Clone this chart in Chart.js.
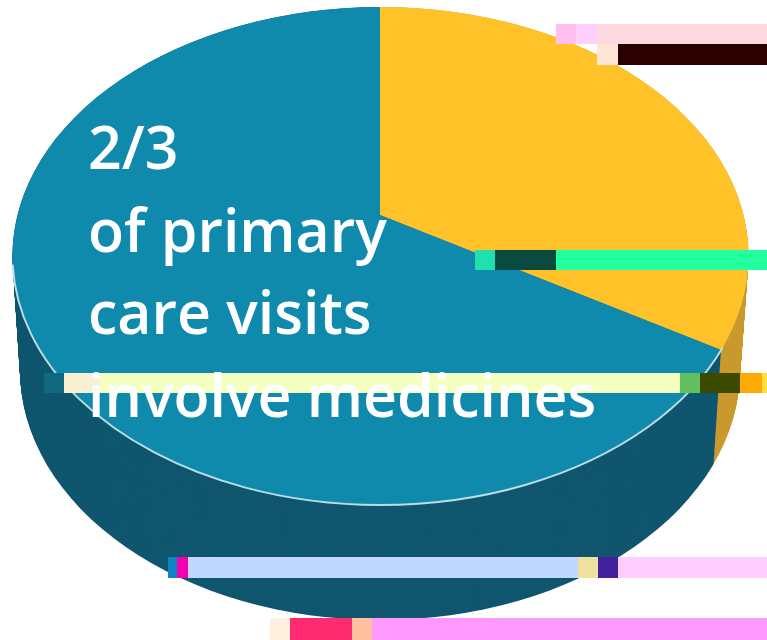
<!DOCTYPE html>
<html>
<head>
<meta charset="utf-8">
<script src="https://cdn.jsdelivr.net/npm/chart.js@4"></script>
<style>
  html, body { margin: 0; padding: 0; background: #fff; overflow: hidden; }
  #wrap { position: relative; width: 767px; height: 640px; overflow: hidden; }
  #pie { position: absolute; left: 0; top: 0; }
  .strip { position: absolute; }
  #caption {
    position: absolute; left: 88px; top: 105px; color: #fff;
    font-family: "Open Sans", sans-serif; font-weight: 600; font-size: 59px; line-height: 82.5px;
    white-space: nowrap;
  }
</style>
</head>
<body>
<div id="wrap">
  <canvas id="pie" width="767" height="640"></canvas>
  <div id="strips"></div>
  <div id="caption">2/3<br>of primary<br>care visits<br>involve medicines</div>
</div>
<script>
const categories = ['Other visits', 'Visits involving medicines'];
const shares = [31, 69];
const topColors = ['#ffc229', '#0f8aac'];
const sideColors = ['#c99a30', '#10566f'];

// the broken bands that run across the source image: x, y, width, height, colour
const bands = [
  [556, 24, 20, 20, '#ffc0f0'], [576, 24, 21, 20, '#ffd0ff'], [597, 24, 170, 20, '#ffd9e0'],
  [597, 44, 21, 21, '#ffe4d8'], [618, 44, 149, 21, '#2a0000'],
  [475, 250, 20, 20, '#20e0b0'], [495, 250, 61, 20, '#0a4a40'], [556, 250, 211, 20, '#22ff9f'],
  [44, 373, 20, 20, '#0f6a80'], [64, 373, 36, 20, '#f8f0d0'], [100, 373, 580, 20, '#f5ffc0'],
  [680, 373, 20, 20, '#60c060'], [700, 373, 40, 20, '#3c4a00'], [740, 373, 22, 20, '#ffaa00'], [762, 373, 5, 20, '#ffe040'],
  [168, 557, 9, 21, '#0a84c4'], [177, 557, 11, 21, '#f000b0'], [188, 557, 390, 21, '#c0d8ff'],
  [578, 557, 20, 21, '#f0e0a0'], [598, 557, 20, 21, '#40209c'], [618, 557, 149, 21, '#ffccff'],
  [270, 618, 20, 22, '#fff0e0'], [290, 618, 62, 22, '#ff2a70'], [352, 618, 20, 22, '#ffc0a0'], [372, 618, 395, 22, '#ff99ff']
];

const stripsBox = document.getElementById('strips');
bands.forEach(function(b) {
  const el = document.createElement('div');
  el.className = 'strip';
  el.style.cssText = `left:${b[0]}px;top:${b[1]}px;width:${b[2]}px;height:${b[3]}px;background:${b[4]}`;
  stripsBox.appendChild(el);
});

// top face and floor of the 3d pie
const face = { x: 380.5, y: 256, rx: 368, ry: 249, apexX: 380, apexY: 215 };
const floor = { x: 380, y: 370, rx: 360, ry: 250, apexX: 374, apexY: 329 };
const zoom = 1.5;

function place(ctx, arc, s) {
  ctx.beginPath();
  ctx.ellipse(s.x, s.y, s.rx, s.ry, 0, 0, Math.PI * 2);
  ctx.clip();
  ctx.translate(s.apexX, s.apexY);
  ctx.scale(zoom, zoom);
  ctx.translate(-arc.x, -arc.y);
}

function mix(a, b, t) {
  return a + (b - a) * t;
}

const pie3d = {
  id: 'pie3d',
  beforeDatasetsDraw(chart) {
    const ctx = chart.ctx;
    const arcs = chart.getDatasetMeta(0).data;
    const depth = floor.y - face.y;
    for (let i = depth; i >= 0; i--) {
      const t = i / depth;
      const layer = {};
      Object.keys(face).forEach(function(k) { layer[k] = mix(face[k], floor[k], t); });
      ctx.save();
      place(ctx, arcs[0], layer);
      arcs.forEach(function(arc, n) {
        const shim = Object.create(arc);
        shim.options = Object.assign({}, arc.options, { backgroundColor: sideColors[n], borderColor: sideColors[n] });
        arc.draw.call(shim, ctx);
      });
      ctx.restore();
    }
  },
  beforeDatasetDraw(chart) {
    chart.ctx.save();
    place(chart.ctx, chart.getDatasetMeta(0).data[0], face);
  },
  afterDatasetDraw(chart) {
    chart.ctx.restore();
    // pale rim along the front edge
    const ctx = chart.ctx;
    ctx.save();
    ctx.beginPath();
    ctx.ellipse(face.x, face.y, face.rx, face.ry, 0, 21.7 * Math.PI / 180, 178 * Math.PI / 180);
    ctx.strokeStyle = '#b8dde5';
    ctx.lineWidth = 2;
    ctx.stroke();
    ctx.restore();
  }
};

new Chart(document.getElementById('pie'), {
  type: 'pie',
  data: {
    labels: categories,
    datasets: [{
      data: shares,
      backgroundColor: topColors,
      borderWidth: 0,
      hoverOffset: 0
    }]
  },
  options: {
    responsive: false,
    animation: false,
    events: [],
    plugins: { legend: { display: false }, tooltip: { enabled: false } }
  },
  plugins: [pie3d]
});
</script>
</body>
</html>
